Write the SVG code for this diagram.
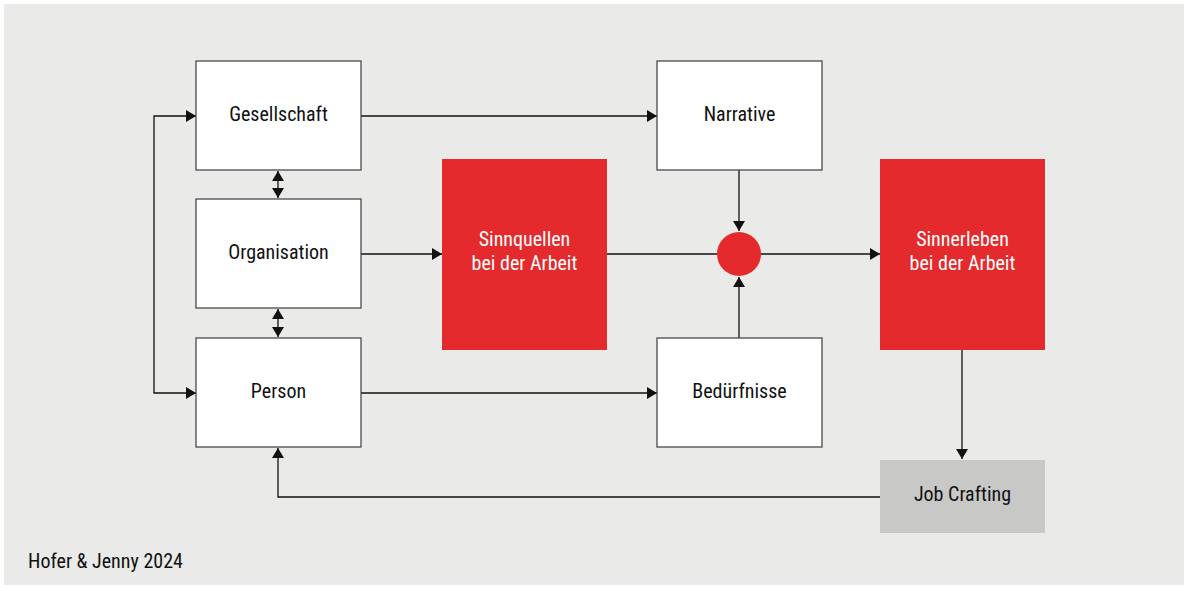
<svg xmlns="http://www.w3.org/2000/svg" width="1184" height="591" viewBox="0 0 1184 591">
<style>
.box{fill:#fff;stroke:#4a4a4a;stroke-width:1.3}
.red{fill:#e42a2c}
.grey{fill:#c8c8c7}
.t{font-family:"Liberation Sans Narrow","Roboto Condensed",Roboto,"Liberation Sans",sans-serif;font-size:20px;fill:#111;text-anchor:middle}
.tw{fill:#fff}
.c{fill:none;stroke:#111;stroke-width:1.3}
</style>
<defs>
<marker id="ah" viewBox="0 0 10 12" refX="10" refY="6" markerWidth="11" markerHeight="12" markerUnits="userSpaceOnUse" orient="auto-start-reverse">
<path d="M0,0 L10,6 L0,12 z" fill="#111"/>
</marker>
</defs>
<rect x="4" y="4" width="1180" height="581" fill="#eaeae8"/>
<g id="connectors">
<path class="c" d="M196,116 H154 V393 H196" marker-start="url(#ah)" marker-end="url(#ah)"/>
<line class="c" x1="278" y1="171" x2="278" y2="198" marker-start="url(#ah)" marker-end="url(#ah)"/>
<line class="c" x1="278" y1="309" x2="278" y2="337" marker-start="url(#ah)" marker-end="url(#ah)"/>
<line class="c" x1="361" y1="116" x2="657" y2="116" marker-end="url(#ah)"/>
<line class="c" x1="361" y1="254" x2="442" y2="254" marker-end="url(#ah)"/>
<line class="c" x1="361" y1="393" x2="657" y2="393" marker-end="url(#ah)"/>
<line class="c" x1="607" y1="254" x2="717" y2="254"/>
<line class="c" x1="761" y1="254" x2="880" y2="254" marker-end="url(#ah)"/>
<line class="c" x1="739" y1="170" x2="739" y2="231" marker-end="url(#ah)"/>
<line class="c" x1="739" y1="338" x2="739" y2="277" marker-end="url(#ah)"/>
<line class="c" x1="962" y1="350" x2="962" y2="459" marker-end="url(#ah)"/>
<path class="c" d="M880,497 H278 V448" marker-end="url(#ah)"/>
</g>
<g id="gesellschaft"><rect class="box" x="196" y="61" width="165" height="109"/><text class="t" x="278.5" y="121">Gesellschaft</text></g>
<g id="organisation"><rect class="box" x="196" y="199" width="165" height="109"/><text class="t" x="278.5" y="259">Organisation</text></g>
<g id="person"><rect class="box" x="196" y="338" width="165" height="109"/><text class="t" x="278.5" y="398">Person</text></g>
<g id="narrative"><rect class="box" x="657" y="61" width="165" height="109"/><text class="t" x="739.5" y="121">Narrative</text></g>
<g id="beduerfnisse"><rect class="box" x="657" y="338" width="165" height="109"/><text class="t" x="739.5" y="398">Bedürfnisse</text></g>
<g id="sinnquellen"><rect class="red" x="442" y="159" width="165" height="191"/><text class="t tw" x="524.5" y="246">Sinnquellen</text><text class="t tw" x="524.5" y="270">bei der Arbeit</text></g>
<g id="sinnerleben"><rect class="red" x="880" y="159" width="165" height="191"/><text class="t tw" x="962.5" y="246">Sinnerleben</text><text class="t tw" x="962.5" y="270">bei der Arbeit</text></g>
<g id="knoten"><circle class="red" cx="739" cy="254" r="22"/></g>
<g id="jobcrafting"><rect class="grey" x="880" y="460" width="165" height="73"/><text class="t" x="962.5" y="501">Job Crafting</text></g>
<g id="quelle"><text class="t" x="28" y="568" style="text-anchor:start">Hofer &amp; Jenny 2024</text></g>
</svg>
